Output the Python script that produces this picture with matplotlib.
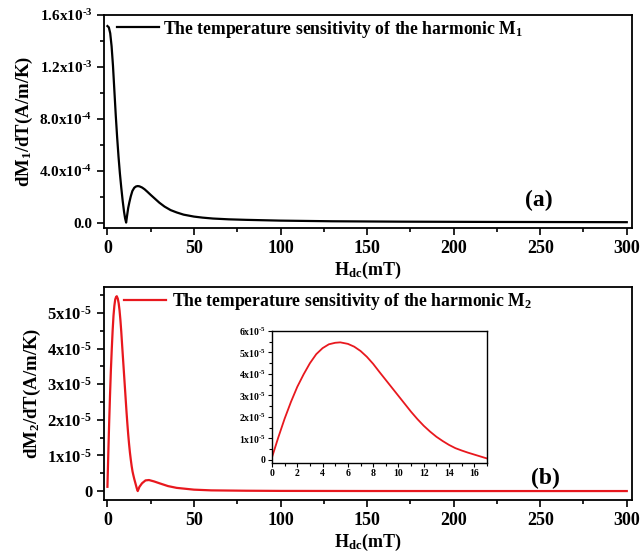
#Temperature sensitivity of the harmonics M1 and M2 versus the dc field

import matplotlib
matplotlib.use("Agg")
import matplotlib.pyplot as plt
from matplotlib.ticker import MultipleLocator, FixedLocator

#Values
h_m1 = [0, 0.8, 1.6, 2.4, 3.2, 4.0, 4.8, 5.6, 6.4, 7.2, 8.0, 8.8, 9.6, 10.2, 10.8,
        11.4, 12.0, 12.7, 13.5, 14.4, 15.5, 16.5, 17.5, 18.5, 20, 21.5, 23, 25, 27.5,
        30, 33, 36.5, 40, 44, 50, 55, 61, 70, 80, 100, 130, 170, 220, 300]
dm1_e4 = [15.15, 15.05, 14.6, 13.6, 12.1, 10.2, 8.3, 6.6, 5.1, 3.8, 2.7, 1.7, 0.85, 0.35, 0.02,
          0.6, 1.15, 1.6, 2.05, 2.45, 2.7, 2.8, 2.83, 2.81, 2.72, 2.58, 2.4, 2.15, 1.85,
          1.55, 1.25, 0.98, 0.8, 0.63, 0.48, 0.4, 0.33, 0.27, 0.23, 0.17, 0.12, 0.09, 0.07, 0.05]

h_m2 = [0, 0.5, 1, 1.5, 2, 2.5, 3, 3.5, 4, 4.5, 5, 5.4, 6, 6.5, 7, 7.5, 8, 8.5, 9, 9.5,
        10, 10.5, 11, 11.5, 12, 12.5, 13, 13.5, 14, 14.5, 15, 15.5, 16, 16.5, 17, 17.5,
        18.5, 20, 22, 24, 27, 30, 35, 40, 50, 60, 80, 100, 150, 200, 250, 300]
dm2_e5 = [0.12, 1.05, 1.92, 2.7, 3.4, 3.98, 4.5, 4.92, 5.2, 5.38, 5.45, 5.47, 5.4, 5.27, 5.07,
          4.8, 4.47, 4.09, 3.72, 3.35, 2.98, 2.61, 2.24, 1.9, 1.59, 1.32, 1.08, 0.88, 0.7,
          0.55, 0.44, 0.34, 0.25, 0.16, 0.07, 0.0, 0.12, 0.22, 0.3, 0.31, 0.27, 0.22, 0.14,
          0.09, 0.04, 0.02, 0.01, 0.005, 0.002, 0.001, 0.001, 0.001]

m1_ticks = [0.0, 4e-4, 8e-4, 1.2e-3, 1.6e-3]
m1_labels = ['0.0', r'4.0x10$^{\text{-4}}$', r'8.0x10$^{\text{-4}}$',
             r'1.2x10$^{\text{-3}}$', r'1.6x10$^{\text{-3}}$']
m2_ticks = [0, 1e-5, 2e-5, 3e-5, 4e-5, 5e-5]
m2_labels = ['0'] + [r'%dx10$^{\text{-5}}$' % k for k in range(1, 6)]
inset_ticks = [0, 1e-5, 2e-5, 3e-5, 4e-5, 5e-5, 6e-5]
inset_labels = ['0'] + [r'%dx10$^{\text{-5}}$' % k for k in range(1, 7)]

dm1 = [v * 1e-4 for v in dm1_e4]
dm2 = [v * 1e-5 for v in dm2_e5]

plt.rcParams['font.family'] = ['Liberation Serif', 'DejaVu Serif']
plt.rcParams['font.weight'] = 'bold'
plt.rcParams['axes.labelweight'] = 'bold'
plt.rcParams['mathtext.fontset'] = 'custom'
plt.rcParams['mathtext.rm'] = 'Liberation Serif:bold'
plt.rcParams['mathtext.bf'] = 'Liberation Serif:bold'
plt.rcParams['mathtext.it'] = 'Liberation Serif:bold'
plt.rcParams['mathtext.default'] = 'bf'

red = '#e8181e'

fig = plt.figure(figsize=(6.41, 5.54), dpi=100)
ax1 = fig.add_axes([0.1622, 0.5884, 0.8237, 0.3845])
ax2 = fig.add_axes([0.1622, 0.0975, 0.8237, 0.3845])
ax3 = fig.add_axes([0.4243, 0.1643, 0.3354, 0.2383])


def style_axes(ax, big=True):
    for s in ax.spines.values():
        s.set_linewidth(1.3 if big else 1.0)
    ax.tick_params(which='both', direction='out', top=False, right=False,
                   width=1.2 if big else 0.8)
    ax.tick_params(which='major', length=5 if big else 3)
    ax.tick_params(which='minor', length=3 if big else 2)
    for lbl in ax.get_xticklabels() + ax.get_yticklabels():
        lbl.set_fontweight('bold')


#panel (a)
ax1.plot(h_m1, dm1, color='black', lw=1.6,
         label='The temperature sensitivity of the harmonic M$_1$')
ax1.set_xlim(-2, 303)
ax1.set_ylim(-4e-5, 1.6e-3)
ax1.xaxis.set_major_locator(MultipleLocator(50))
ax1.xaxis.set_minor_locator(MultipleLocator(25))
ax1.yaxis.set_major_locator(FixedLocator(m1_ticks))
ax1.set_yticklabels(m1_labels)
ax1.yaxis.set_minor_locator(MultipleLocator(2e-4))
ax1.tick_params(axis='x', labelsize=13)
ax1.tick_params(axis='y', labelsize=11)
ax1.set_xlabel('H$_{dc}$(mT)', fontsize=13, labelpad=2)
ax1.set_ylabel('dM$_1$/dT(A/m/K)', fontsize=13.5, labelpad=3)
ax1.legend(loc='center left', bbox_to_anchor=(0.0246, 0.934), frameon=False, fontsize=12.7,
           handlelength=2.4, borderpad=0, borderaxespad=0, handletextpad=0.2)
ax1.text(0.824, 0.13, '(a)', transform=ax1.transAxes, fontsize=17,
         ha='center', va='center')
style_axes(ax1)

#panel (b)
ax2.plot(h_m2, dm2, color=red, lw=1.6,
         label='The temperature sensitivity of the harmonic M$_2$')
ax2.set_xlim(-2, 303)
ax2.set_ylim(-0.25e-5, 5.73e-5)
ax2.xaxis.set_major_locator(MultipleLocator(50))
ax2.xaxis.set_minor_locator(MultipleLocator(25))
ax2.yaxis.set_major_locator(FixedLocator(m2_ticks))
ax2.set_yticklabels(m2_labels)
ax2.yaxis.set_minor_locator(MultipleLocator(0.5e-5))
ax2.tick_params(axis='x', labelsize=13)
ax2.tick_params(axis='y', labelsize=12)
ax2.set_xlabel('H$_{dc}$(mT)', fontsize=13, labelpad=2)
ax2.set_ylabel('dM$_2$/dT(A/m/K)', fontsize=13.5, labelpad=3)
ax2.legend(loc='center left', bbox_to_anchor=(0.038, 0.931), frameon=False, fontsize=12.7,
           handlelength=2.4, borderpad=0, borderaxespad=0, handletextpad=0.3)
ax2.text(0.837, 0.103, '(b)', transform=ax2.transAxes, fontsize=17,
         ha='center', va='center')
style_axes(ax2)

#inset of the first peak of M2
ax3.plot(h_m2, dm2, color=red, lw=1.3)
ax3.set_xlim(0, 17)
ax3.set_ylim(-0.14e-5, 6.0e-5)
ax3.xaxis.set_major_locator(MultipleLocator(2))
ax3.xaxis.set_minor_locator(MultipleLocator(1))
ax3.yaxis.set_major_locator(FixedLocator(inset_ticks))
ax3.set_yticklabels(inset_labels)
ax3.yaxis.set_minor_locator(MultipleLocator(0.5e-5))
ax3.tick_params(axis='both', labelsize=7, pad=1.5)
style_axes(ax3, big=False)

fig.savefig('out.png', dpi=100)
